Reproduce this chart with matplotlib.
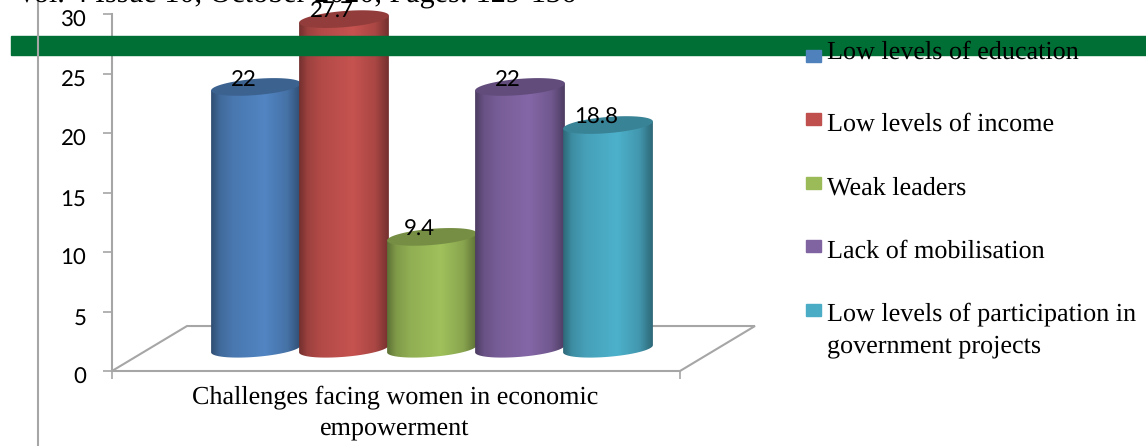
import numpy as np
import matplotlib
matplotlib.use("Agg")
import matplotlib.pyplot as plt
from matplotlib.colors import LinearSegmentedColormap
from matplotlib.patches import Polygon, Rectangle
from matplotlib.transforms import ScaledTranslation

plt.rcParams["text.hinting"] = "none"

W, H = 1146, 446

labels = ["Low levels of education", "Low levels of income", "Weak leaders",
          "Lack of mobilisation", "Low levels of participation in\ngovernment projects"]
values = [22, 27.7, 9.4, 22, 18.8]
value_text = ["22", "27.7", "9.4", "22", "18.8"]
colors = ["#4f81bd", "#c0504d", "#9bbb59", "#8064a2", "#4bacc6"]
yticks = [0, 5, 10, 15, 20, 25, 30]
category = "Challenges facing women in economic\nempowerment"
header = "Vol. 4 Issue 10, October 2020, Pages: 129-136"

SERIF = "Liberation Serif"
SANS = "Lato"
GREY = "#a6a6a6"


def fx(px):
    return px / W


def fy(py):
    return 1 - py / H


def shade(col, k):
    c = np.array(matplotlib.colors.to_rgb(col))
    return tuple(np.clip(c * k, 0, 1))


fig = plt.figure(figsize=(W / 100, H / 100), dpi=100)

# page stuff behind the chart
fig.patches.append(Rectangle((fx(11), fy(55)), fx(1135), 19 / H, transform=fig.transFigure,
                             color="#006f35", zorder=0))
fig.add_artist(plt.Line2D([fx(38), fx(38)], [fy(0), fy(446)], color=GREY, lw=1.5, zorder=1))
fig.text(fx(16), fy(3), header, family=SERIF, fontsize=21.7, va="baseline", ha="left")

ax = fig.add_axes([fx(112), fy(371), fx(680 - 112), 357 / H])
ax.patch.set_alpha(0)
ax.set_xlim(-1.636, 4.818)
ax.set_ylim(0, 30)

for s in ["top", "right"]:
    ax.spines[s].set_visible(False)
for s in ["left", "bottom"]:
    ax.spines[s].set_color(GREY)
    ax.spines[s].set_linewidth(1.5)
ax.set_yticks(yticks)
ax.tick_params(axis="y", length=6.5, width=1.2, color=GREY, labelsize=16, pad=12)
# tick numbers sit a few pixels under their ticks in the original
shift = ScaledTranslation(0, -5 / 100, fig.dpi_scale_trans)
for t in ax.get_yticklabels():
    t.set_family(SANS)
    t.set_transform(t.get_transform() + shift)
ax.set_xticks([ax.get_xlim()[0], ax.get_xlim()[1]])
ax.set_xticklabels([])
ax.tick_params(axis="x", length=6, width=1.2, color=GREY, direction="out")

# floor of the 3d box
x0, x1 = ax.get_xlim()
depth_x, depth_y = 0.852, 3.78
ax.add_patch(Polygon([(x0, 0), (x0 + depth_x, depth_y), (x1 + depth_x, depth_y), (x1, 0)],
                     closed=False, fill=False, ec=GREY, lw=1.5, clip_on=False, zorder=1))

# cylinders, left to right so each one sits on the last
base = 1.87
rx, ry, tilt = 0.51, 0.68, 0.3
shine = np.linspace(0, 1, 256).reshape(1, -1)
t_low = np.linspace(np.pi, 2 * np.pi, 60)
t_all = np.linspace(0, 2 * np.pi, 120)

for i, (v, c) in enumerate(zip(values, colors)):
    top = base + v
    z = 3 + i
    cmap = LinearSegmentedColormap.from_list(
        "cyl%d" % i, [(0, shade(c, 0.6)), (0.1, shade(c, 0.82)), (0.25, shade(c, 0.93)), (0.6, shade(c, 1.03)),
                      (0.85, shade(c, 0.88)), (1, shade(c, 0.6))])
    im = ax.imshow(shine, extent=[i - rx, i + rx, base - ry - tilt, top + tilt], aspect="auto",
                   cmap=cmap, vmin=0, vmax=1, zorder=z)
    body = np.column_stack([
        np.r_[i + rx * np.cos(t_low), i + rx, i - rx],
        np.r_[base + ry * np.sin(t_low) + tilt * np.cos(t_low), top + tilt, top - tilt],
    ])
    clip = Polygon(body, closed=True, transform=ax.transData, fc="none", ec="none")
    ax.add_patch(clip)
    im.set_clip_path(clip)
    cap = np.column_stack([i + rx * np.cos(t_all),
                           top + ry * np.sin(t_all) + tilt * np.cos(t_all)])
    ax.add_patch(Polygon(cap, closed=True, fc=shade(c, 0.76), ec="none", zorder=z + 0.1, clip_on=False))

ax.set_xlim(x0, x1)
ax.set_ylim(0, 30)

# value labels, sitting a bit left of each cap
for i, (v, s) in enumerate(zip(values, value_text)):
    ax.text(i - 0.14, base + v + 0.6, s, family=SANS, fontsize=16,
            ha="center", va="center", zorder=20, clip_on=False)

fig.text(fx(395), fy(413), category, family=SERIF, fontsize=18.8, ha="center", va="center",
         linespacing=1.5)

# legend by hand because the rows are not evenly placed
text_y = [52, 124, 188, 251, 330]
swatch_top = [50, 113, 177, 240, 304]
for lab, c, ty, sy in zip(labels, colors, text_y, swatch_top):
    fig.patches.append(Rectangle((fx(806), fy(sy + 12)), 15 / W, 12 / H,
                                 transform=fig.transFigure, color=c, zorder=5))
    fig.text(fx(827), fy(ty), lab, family=SERIF, fontsize=18.8, va="center", linespacing=1.5, zorder=6)

fig.savefig("out.png", dpi=100)
